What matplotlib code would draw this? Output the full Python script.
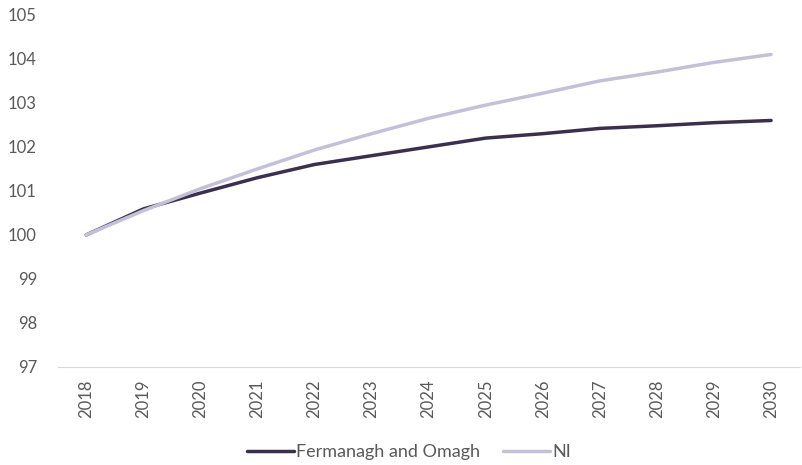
import matplotlib.pyplot as plt

years = list(range(2018, 2031))
fermanagh_omagh = [100.0, 100.59, 100.95, 101.3, 101.6, 101.8, 102.0, 102.2, 102.3, 102.42, 102.48, 102.55, 102.6]
ni = [100.0, 100.55, 101.05, 101.5, 101.93, 102.3, 102.65, 102.95, 103.22, 103.5, 103.7, 103.92, 104.1]

plt.rcParams['font.family'] = ['Lato', 'DejaVu Sans']

fig = plt.figure(figsize=(8.02, 4.65), dpi=100)
ax = fig.add_axes([0.072, 0.211, 0.925, 0.757])

ax.plot(years, fermanagh_omagh, color='#3b2f50', lw=2.5, solid_capstyle='round',
        label='Fermanagh and Omagh', zorder=2)
ax.plot(years, ni, color='#c5c0d9', lw=2.5, solid_capstyle='round', label='NI', zorder=3)

ax.set_xlim(2017.5, 2030.5)
ax.set_ylim(97, 105)
ax.set_yticks(range(97, 106))
ax.set_xticks(years)
ax.set_xticklabels([str(y) for y in years], rotation=90)
ax.tick_params(length=0, labelsize=12, colors='#595959')
ax.tick_params(axis='x', pad=9)
ax.tick_params(axis='y', pad=15)

for s in ['top', 'right', 'left']:
    ax.spines[s].set_visible(False)
ax.spines['bottom'].set_color('#d9d9d9')

leg = fig.legend(loc='center', bbox_to_anchor=(0.51, 0.027), ncol=2, frameon=False,
                 fontsize=13, handlelength=2.6, handletextpad=0.1, columnspacing=1.3)
for t in leg.get_texts():
    t.set_color('#595959')

fig.savefig('out.png', dpi=100)
